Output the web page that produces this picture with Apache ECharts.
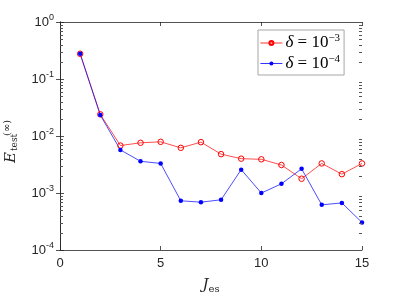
<!DOCTYPE html>
<html>
<head>
<meta charset="utf-8">
<script src="https://cdn.jsdelivr.net/npm/echarts@6/dist/echarts.min.js"></script>
<style>html,body{margin:0;padding:0;background:#fff}#c{width:399px;height:299px}</style>
</head>
<body>
<div id="c"></div>
<script>
// ---- data ----
const jValues = [1,2,3,4,5,6,7,8,9,10,11,12,13,14,15];
const errDelta3 = [0.277,0.024,0.0068,0.0076,0.0079,0.0062,0.0078,0.0048,0.0040,0.0039,0.0031,0.00178,0.0033,0.00214,0.0033];
const errDelta4 = [0.277,0.0233,0.0057,0.0036,0.0033,0.00073,0.00069,0.00076,0.00257,0.0010,0.00145,0.00266,0.00062,0.00067,0.000304];
const xTicks = [0,5,10,15];
const yDecades = [1e-4,1e-3,1e-2,1e-1,1];
const seriesNames = ['δ = 10^-3','δ = 10^-4'];
const legendExp = ['−3','−4'];
const minorTickValues = [];
for (let d = 0; d < yDecades.length - 1; d++) {
  for (let m = 2; m <= 9; m++) minorTickValues.push(m * yDecades[d]);
}

const TXT = '#262626';
const chart = echarts.init(document.getElementById('c'), null, {renderer:'canvas'});

const pairs = arr => jValues.map((x,i) => [x, arr[i]]);

const option = {
  animation: false,
  backgroundColor: '#fff',
  grid: {left: 60, right: 37, top: 22, bottom: 45, containLabel: false},
  xAxis: [{
    type: 'value', min: xTicks[0], max: xTicks[xTicks.length-1], interval: 5,
    axisLine: {show: true, lineStyle: {color: TXT, width: 0.8}},
    axisTick: {show: true, inside: true, length: 4, lineStyle: {color: TXT, width: 0.8}},
    axisLabel: {color: TXT, fontFamily: 'Liberation Sans', fontSize: 13, margin: 7},
    splitLine: {show: false},
    name: '{j|J}{s|es}', nameLocation: 'middle', nameGap: 26,
    nameTextStyle: {rich: {
      j: {fontFamily: 'DejaVu Serif', fontStyle: 'italic', fontSize: 15, color: TXT, lineHeight: 18},
      s: {fontFamily: 'DejaVu Serif', fontSize: 10, color: TXT, lineHeight: 10, verticalAlign: 'bottom'}
    }}
  },{
    type: 'value', position: 'top', min: xTicks[0], max: xTicks[xTicks.length-1], interval: 5,
    axisLine: {show: true, lineStyle: {color: TXT, width: 0.8}},
    axisTick: {show: true, inside: true, length: 4, lineStyle: {color: TXT, width: 0.8}},
    axisLabel: {show: false}, splitLine: {show: false}
  }],
  yAxis: [{
    type: 'log', logBase: 10, min: yDecades[0], max: yDecades[yDecades.length-1], splitNumber: 4,
    axisLine: {show: true, lineStyle: {color: TXT, width: 0.8}},
    axisTick: {show: true, inside: true, length: 4, lineStyle: {color: TXT, width: 0.8}},
    axisLabel: {
      margin: 6,
      formatter: v => '{b|10}{s|' + Math.round(Math.log10(v)) + '}',
      rich: {
        b: {fontFamily: 'Liberation Sans', fontSize: 13, color: TXT, lineHeight: 18},
        s: {fontFamily: 'Liberation Sans', fontSize: 9, color: TXT, lineHeight: 10, verticalAlign: 'top'}
      }
    },
    splitLine: {show: false}
  },{
    type: 'log', logBase: 10, position: 'right', min: yDecades[0], max: yDecades[yDecades.length-1], splitNumber: 4,
    axisLine: {show: true, lineStyle: {color: TXT, width: 0.8}},
    axisTick: {show: true, inside: true, length: 4, lineStyle: {color: TXT, width: 0.8}},
    axisLabel: {show: false}, splitLine: {show: false}
  }],
  legend: {
    data: seriesNames,
    orient: 'vertical', left: 258, top: 30,
    padding: [3, 4, 3, 2], itemGap: 2, itemWidth: 22, itemHeight: 5,
    backgroundColor: '#fff', borderColor: '#a6a6a6', borderWidth: 1, borderRadius: 0,
    lineStyle: {width: 0.8},
    formatter: name => '{d|δ}{t| = 10}{s|' + legendExp[seriesNames.indexOf(name)] + '}',
    textStyle: {
      padding: [0,0,0,-2],
      rich: {
        d: {fontFamily: 'Liberation Serif', fontStyle: 'italic', fontSize: 17, color: '#000', lineHeight: 20},
        t: {fontFamily: 'Liberation Serif', fontSize: 17, color: '#000', lineHeight: 20},
        s: {fontFamily: 'Liberation Serif', fontSize: 11, color: '#000', lineHeight: 12, verticalAlign: 'top'}
      }
    }
  },
  graphic: [{
    type: 'group', x: 0, y: 163, rotation: Math.PI / 2,
    children: [
      {type: 'text', x: 0, y: 11, style: {text: 'E', font: 'italic 15px "DejaVu Serif"', fill: TXT, align: 'left', verticalAlign: 'middle'}},
      {type: 'text', x: 12, y: 15, style: {text: 'test', font: '9px "DejaVu Serif"', fill: TXT, align: 'left', verticalAlign: 'middle'}},
      {type: 'text', x: 27, y: 7, style: {text: '(∞)', font: '10px "DejaVu Serif"', fill: TXT, align: 'left', verticalAlign: 'middle'}}
    ]
  }],
  series: [{
    name: seriesNames[0], type: 'line', data: pairs(errDelta3),
    symbol: 'circle', symbolSize: 5.5, showSymbol: true,
    lineStyle: {color: '#ff0000', width: 0.7},
    itemStyle: {color: 'rgba(255,255,255,0)', borderColor: '#ff0000', borderWidth: 1},
    color: '#ff0000'
  },{
    name: seriesNames[1], type: 'line', data: pairs(errDelta4),
    symbol: 'circle', symbolSize: 4.5, showSymbol: true,
    lineStyle: {color: '#0000ff', width: 0.7},
    itemStyle: {color: '#0000ff', borderWidth: 0},
    color: '#0000ff'
  },{
    name: 'minorTicks', type: 'custom', silent: true, z: 5, clip: false,
    data: minorTickValues.map(v => [0, v]),
    encode: {x: 0, y: 1},
    renderItem: (params, api) => {
      const p = api.coord([0, api.value(1)]);
      const cs = params.coordSys;
      const y = Math.round(p[1]) + 0.5;
      const xl = Math.round(cs.x);
      const xr = Math.round(cs.x + cs.width);
      return {type: 'group', children: [
        {type: 'line', shape: {x1: xl, y1: y, x2: xl + 3, y2: y}, style: {stroke: '#555', lineWidth: 1}},
        {type: 'line', shape: {x1: xr, y1: y, x2: xr - 3, y2: y}, style: {stroke: '#555', lineWidth: 1}}
      ]};
    }
  }]
};
chart.setOption(option);
</script>
</body>
</html>
